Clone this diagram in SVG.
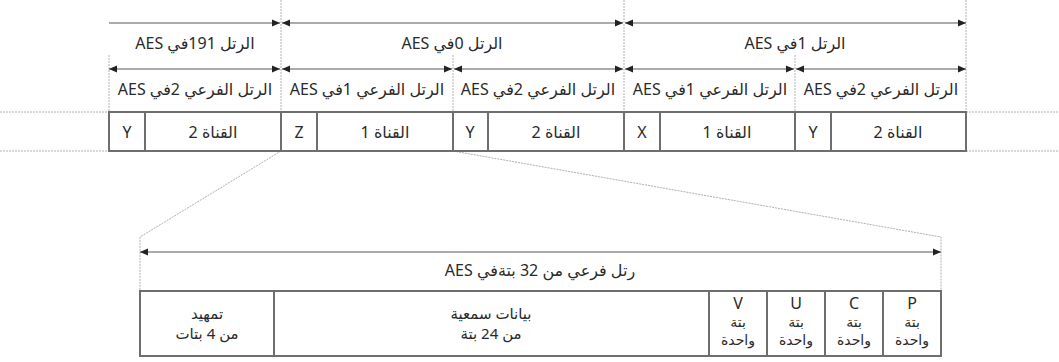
<svg xmlns="http://www.w3.org/2000/svg" width="1059" height="362" viewBox="0 0 1059 362">
<defs>
<marker id="ah" viewBox="0 0 8 8" refX="8" refY="4" markerWidth="8" markerHeight="8" markerUnits="userSpaceOnUse" orient="auto-start-reverse">
<path d="M0,0.5 L8,4 L0,7.5 Z" fill="#222"/>
</marker>
<style>
.t{font-family:"Noto Sans","DejaVu Sans",sans-serif;font-size:16px;fill:#2a2a2a;text-anchor:middle;direction:rtl;unicode-bidi:embed}
.s{font-size:14px}
.m{font-size:15px}
.arr{stroke:#8f8f8f;stroke-width:1.5;fill:none}
.box{stroke:#6e6e6e;stroke-width:2;fill:#fff}
.dot{stroke:#b0b0b0;stroke-width:1;stroke-dasharray:2 1;fill:none}
</style>
</defs>
<rect width="1059" height="362" fill="#fff"/>

<g id="guides">
<line class="dot" x1="0" y1="112" x2="109" y2="112"/>
<line class="dot" x1="0" y1="151" x2="109" y2="151"/>
<line class="dot" x1="966" y1="112" x2="1059" y2="112"/>
<line class="dot" x1="966" y1="151" x2="1059" y2="151"/>
<line class="dot" x1="281" y1="0" x2="281" y2="151"/>
<line class="dot" x1="624" y1="0" x2="624" y2="151"/>
<line class="dot" x1="966" y1="0" x2="966" y2="151"/>
<line class="dot" x1="109" y1="55" x2="109" y2="151"/>
<line class="dot" x1="453" y1="55" x2="453" y2="151"/>
<line class="dot" x1="795" y1="55" x2="795" y2="151"/>
<polyline class="dot" points="281,151 140,237 140,291"/>
<polyline class="dot" points="453,151 941,237 941,291"/>
</g>

<g id="connectors">
<line class="arr" x1="109" y1="23" x2="280" y2="23" marker-end="url(#ah)"/>
<line class="arr" x1="282" y1="23" x2="623" y2="23" marker-start="url(#ah)" marker-end="url(#ah)"/>
<line class="arr" x1="625" y1="23" x2="966" y2="23" marker-start="url(#ah)" marker-end="url(#ah)"/>
<line class="arr" x1="109" y1="69" x2="280" y2="69" marker-start="url(#ah)" marker-end="url(#ah)"/>
<line class="arr" x1="282" y1="69" x2="452" y2="69" marker-start="url(#ah)" marker-end="url(#ah)"/>
<line class="arr" x1="454" y1="69" x2="623" y2="69" marker-start="url(#ah)" marker-end="url(#ah)"/>
<line class="arr" x1="625" y1="69" x2="794" y2="69" marker-start="url(#ah)" marker-end="url(#ah)"/>
<line class="arr" x1="796" y1="69" x2="966" y2="69" marker-start="url(#ah)" marker-end="url(#ah)"/>
<line class="arr" x1="140" y1="252" x2="941" y2="252" marker-start="url(#ah)" marker-end="url(#ah)"/>
</g>

<g id="frame-labels">
<text class="t" x="195" y="49">الرتل 191في AES</text>
<text class="t" x="452" y="49">الرتل 0في AES</text>
<text class="t" x="795" y="49">الرتل 1في AES</text>
<text class="t" x="195" y="95">الرتل الفرعي 2في AES</text>
<text class="t" x="367" y="95">الرتل الفرعي 1في AES</text>
<text class="t" x="538" y="95">الرتل الفرعي 2في AES</text>
<text class="t" x="710" y="95">الرتل الفرعي 1في AES</text>
<text class="t" x="881" y="95">الرتل الفرعي 2في AES</text>
<text class="t" x="540" y="276">رتل فرعي من 32 بتةفي AES</text>
</g>

<g id="channel-row">
<rect class="box" x="109" y="112" width="857" height="39"/>
<line class="box" x1="145" y1="112" x2="145" y2="151"/>
<line class="box" x1="281" y1="112" x2="281" y2="151"/>
<line class="box" x1="317" y1="112" x2="317" y2="151"/>
<line class="box" x1="453" y1="112" x2="453" y2="151"/>
<line class="box" x1="488" y1="112" x2="488" y2="151"/>
<line class="box" x1="624" y1="112" x2="624" y2="151"/>
<line class="box" x1="660" y1="112" x2="660" y2="151"/>
<line class="box" x1="795" y1="112" x2="795" y2="151"/>
<line class="box" x1="831" y1="112" x2="831" y2="151"/>
<text class="t" x="127" y="138">Y</text>
<text class="t" x="213" y="138">القناة 2</text>
<text class="t" x="299" y="138">Z</text>
<text class="t" x="385" y="138">القناة 1</text>
<text class="t" x="470" y="138">Y</text>
<text class="t" x="556" y="138">القناة 2</text>
<text class="t" x="642" y="138">X</text>
<text class="t" x="727" y="138">القناة 1</text>
<text class="t" x="813" y="138">Y</text>
<text class="t" x="898" y="138">القناة 2</text>
</g>

<g id="subframe">
<rect class="box" x="140" y="291" width="801" height="65"/>
<line class="box" x1="274" y1="291" x2="274" y2="356"/>
<line class="box" x1="709" y1="291" x2="709" y2="356"/>
<line class="box" x1="767" y1="291" x2="767" y2="356"/>
<line class="box" x1="825" y1="291" x2="825" y2="356"/>
<line class="box" x1="883" y1="291" x2="883" y2="356"/>
<text class="t m" x="207" y="319">تمهيد</text>
<text class="t m" x="207" y="339">من 4 بتات</text>
<text class="t m" x="491" y="319">بيانات سمعية</text>
<text class="t m" x="491" y="339">من 24 بتة</text>
<text class="t" x="738" y="309">V</text>
<text class="t s" x="738" y="327">بتة</text>
<text class="t s" x="738" y="345">واحدة</text>
<text class="t" x="796" y="309">U</text>
<text class="t s" x="796" y="327">بتة</text>
<text class="t s" x="796" y="345">واحدة</text>
<text class="t" x="854" y="309">C</text>
<text class="t s" x="854" y="327">بتة</text>
<text class="t s" x="854" y="345">واحدة</text>
<text class="t" x="912" y="309">P</text>
<text class="t s" x="912" y="327">بتة</text>
<text class="t s" x="912" y="345">واحدة</text>
</g>
</svg>
